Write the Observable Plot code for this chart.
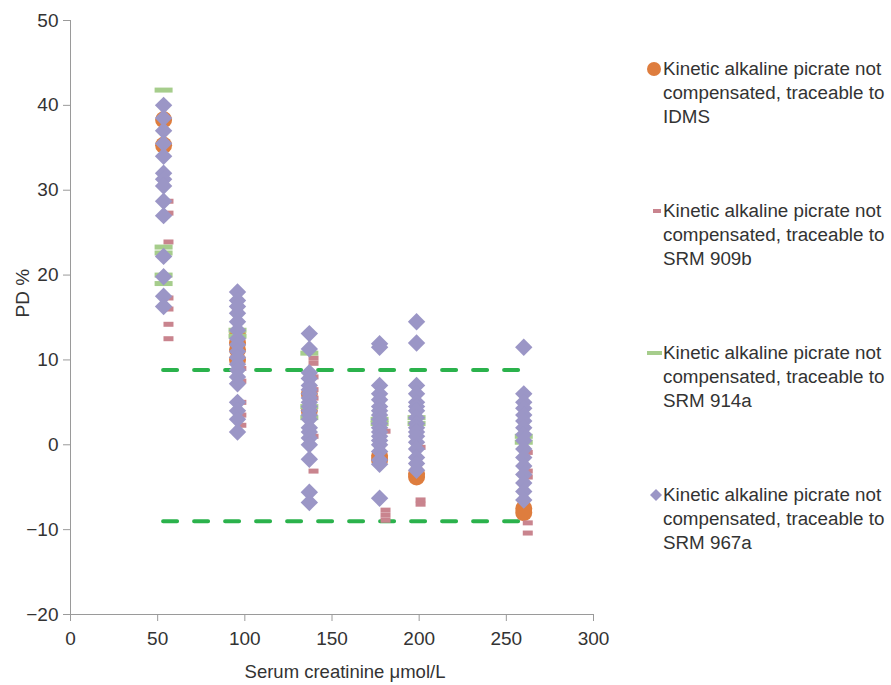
<!DOCTYPE html>
<html>
<head>
<meta charset="utf-8">
<script src="https://cdn.jsdelivr.net/npm/d3@7"></script>
<script src="https://cdn.jsdelivr.net/npm/@observablehq/plot@0.6"></script>
<style>
  body { margin: 0; background: #fff; font-family: "Liberation Sans", Arial, sans-serif; overflow: hidden; }
  #wrap { position: relative; width: 891px; height: 685px; overflow: hidden; }
  #chart { position: absolute; left: 0; top: 0; }
  .leg { position: absolute; left: 663px; font-size: 18.8px; line-height: 24px; color: #333; width: 228px; white-space: nowrap; }
  .mk { position: absolute; }
</style>
</head>
<body>
<div id="wrap"><div id="chart"></div><div id="legend"></div></div>
<script>
// Series labels
const seriesNames = [
  "Kinetic alkaline picrate not compensated, traceable to IDMS",
  "Kinetic alkaline picrate not compensated, traceable to SRM 909b",
  "Kinetic alkaline picrate not compensated, traceable to SRM 914a",
  "Kinetic alkaline picrate not compensated, traceable to SRM 967a"
];
// Serum creatinine levels (µmol/L) for each series
const levelsMain = [53.4, 95.8, 137, 177.3, 198.5, 260];
const levelsSRM909b = [56.2, 98, 139.4, 180.7, 200.8, 262.3];
// PD % values per level
const idmsPD = [
  [38.3, 35.3],
  [13, 12, 11.2, 10],
  [6, 4],
  [-1.3, -1.8],
  [-3.4, -3.8],
  [-7.5, -8]
];
const srm909bPD = [
  [28.7, 27.3, 23.9, 17.3, 16, 14.2, 12.5],
  [9, 7.5, 5, 3.5, 2.3],
  [10.2, 9.6, 8, 6.5, 5.5, 1, -3.1],
  [1.6, -7.7, -8.3, -8.9],
  [-0.3, -6.5, -7],
  [-0.9, -3.1, -3.8, -9.2, -10.4]
];
const srm914aPD = [
  [41.8, 23.3, 22.6, 20, 19],
  [13.5, 12.8],
  [10.8, 4.5, 3.2],
  [3, 2.5],
  [3.2, 2.5],
  [1, 0.3]
];
const srm967aPD = [
  [40, 38.5, 37, 35.5, 34, 32, 31.3, 30.5, 28.7, 27, 22.2, 19.8, 17.5, 16.3],
  [18, 17, 16.3, 15.5, 14.5, 13.5, 12.5, 11.8, 11, 10.3, 9.5, 8.8, 8, 7.2, 5, 4, 3, 1.5],
  [13.1, 11.3, 8.5, 7.8, 7, 6.5, 6, 5.5, 5, 4.5, 4, 3.5, 3, 2, 1.5, 0.8, 0, -1.7, -5.6, -6.8],
  [11.9, 11.5, 7, 6, 5.3, 4.5, 4, 3.5, 3, 2.5, 2, 1.5, 1, 0.5, 0, -0.8, -1.8, -2.3, -6.3],
  [14.5, 12, 7, 6, 5, 4.5, 4, 3.2, 2.5, 2, 1.5, 1, 0.3, -0.5, -1.5, -2.2, -3],
  [11.5, 6, 5, 4.3, 3.5, 2.8, 2, 1.2, 0.5, -0.5, -1.5, -2.5, -3.5, -4.5, -5.5, -6.5]
];
// Acceptance limits (PD %) across the tested range
const limitPD = [8.8, -9];
const limitRange = [53.4, 261];
const xTicks = [0, 50, 100, 150, 200, 250, 300];
const yTicks = [-20, -10, 0, 10, 20, 30, 40, 50];

const colors = { idms: "#de7d3e", s909: "#c9848e", s914: "#a6cd8c", s967: "#9b96c6", limit: "#2bb24c" };

function flatten(levels, pd) {
  const out = [];
  levels.forEach((x, i) => pd[i].forEach(y => out.push({x, y})));
  return out;
}
const dIdms = flatten(levelsMain, idmsPD);
const d909 = flatten(levelsSRM909b, srm909bPD);
const d914 = flatten(levelsMain, srm914aPD);
const d967 = flatten(levelsMain, srm967aPD);

const rectSym = (w, h) => ({ draw(ctx) { ctx.rect(-w/2, -h/2, w, h); } });
const diamondSym = (r) => ({ draw(ctx) { ctx.moveTo(0, -r); ctx.lineTo(r, 0); ctx.lineTo(0, r); ctx.lineTo(-r, 0); ctx.closePath(); } });
const circleSym = (r) => ({ draw(ctx) { ctx.moveTo(r, 0); ctx.arc(0, 0, r, 0, 2 * Math.PI); } });

const FS = 19;
const plot = Plot.plot({
  width: 630,
  height: 685,
  marginLeft: 70,
  marginRight: 37,
  marginTop: 20,
  marginBottom: 71,
  style: { fontFamily: "'Liberation Sans', Arial, sans-serif", fontSize: FS + "px", color: "#333", background: "#fff", overflow: "visible" },
  x: { domain: [0, 300] },
  y: { domain: [-20, 50] },
  marks: [
    Plot.ruleX([0], { stroke: "#9a9a9a", strokeWidth: 1 }),
    Plot.ruleY([-20], { stroke: "#9a9a9a", strokeWidth: 1 }),
    Plot.axisX({ ticks: xTicks, tickSize: 7, tickPadding: 10, stroke: "#9a9a9a", label: null, fontSize: FS }),
    Plot.axisY({ ticks: yTicks, tickSize: 7, tickPadding: 5, stroke: "#9a9a9a", label: null, fontSize: FS }),
    Plot.ruleY(limitPD, { x1: limitRange[0], x2: limitRange[1], stroke: colors.limit, strokeWidth: 4, strokeDasharray: "14,17", strokeLinecap: "round" }),
    Plot.dot(dIdms, { x: "x", y: "y", symbol: circleSym(8.5), fill: colors.idms, stroke: "none" }),
    Plot.dot(d909, { x: "x", y: "y", symbol: rectSym(10, 5), fill: colors.s909, stroke: "none" }),
    Plot.dot(d914, { x: "x", y: "y", symbol: rectSym(18, 5), fill: colors.s914, stroke: "none" }),
    Plot.dot(d967, { x: "x", y: "y", symbol: diamondSym(8.7), fill: colors.s967, stroke: "none" }),
    Plot.text(["Serum creatinine μmol/L"], { frameAnchor: "bottom", lineAnchor: "middle", dy: 58, dx: 13, fontSize: 18.5, fill: "#333" }),
    Plot.text(["PD %"], { frameAnchor: "left", lineAnchor: "middle", rotate: -90, dx: -48, dy: 0, fontSize: FS, fill: "#333" })
  ]
});
document.getElementById("chart").appendChild(plot);

// Legend (HTML, right side)
const legendMarkers = [
  `<svg width="16" height="16"><circle cx="8" cy="8" r="7" fill="${colors.idms}"/></svg>`,
  `<svg width="16" height="16"><rect x="7" y="6" width="8" height="4" fill="${colors.s909}"/></svg>`,
  `<svg width="16" height="16"><rect x="1" y="6" width="15" height="4" fill="${colors.s914}"/></svg>`,
  `<svg width="16" height="16"><path d="M10,2 L16,8 L10,14 L4,8 Z" fill="${colors.s967}"/></svg>`
];
const legend = document.getElementById("legend");
seriesNames.forEach((name, i) => {
  const top = 57 + i * 142;
  const lines = name.replace(" compensated, traceable to ", "|compensated, traceable to|").split("|");
  const mk = document.createElement("div");
  mk.className = "mk";
  mk.style.left = "646px";
  mk.style.top = (top + 4) + "px";
  mk.innerHTML = legendMarkers[i];
  legend.appendChild(mk);
  const t = document.createElement("div");
  t.className = "leg";
  t.style.top = top + "px";
  t.innerHTML = lines.join("<br>");
  legend.appendChild(t);
});
</script>
</body>
</html>
